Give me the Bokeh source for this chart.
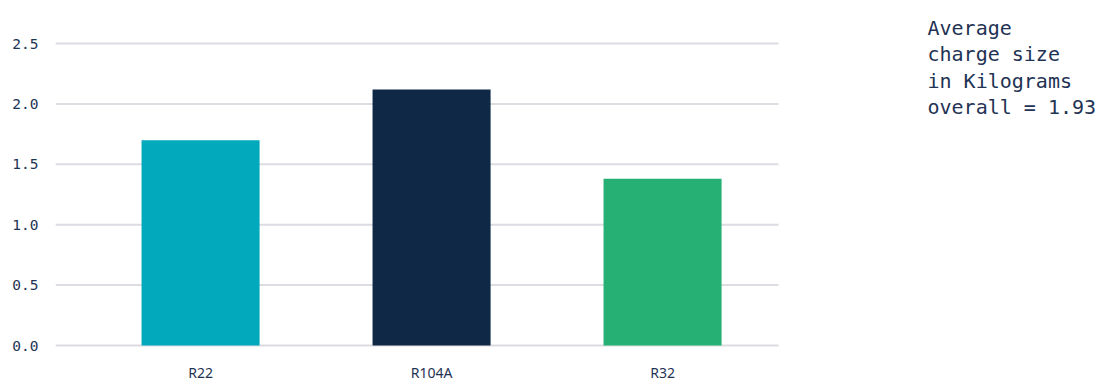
from bokeh.plotting import figure
from bokeh.models import FixedTicker, Range1d
from bokeh.core.properties import value
from bokeh.embed import file_html
from bokeh.resources import INLINE

categories = ["R22", "R104A", "R32"]
values = [1.70, 2.12, 1.38]
colors = ["#02a9bd", "#0f2846", "#27b074"]
y_ticks = [0.0, 0.5, 1.0, 1.5, 2.0, 2.5]
note_lines = ["Average", "charge size", "in Kilograms", "overall = 1.93"]

xs = list(range(len(categories)))
text_color = "#1f3354"

# layout constants (pixels)
PX_PER_CAT = 231.0
PX_PER_UNIT = 120.8
ZERO_Y = 345.0
LEFT = 55
X0 = -0.628                      # data x at the left edge of the frame
GRID_X1 = X0 + (778 - LEFT) / PX_PER_CAT

def y_of(px):
    return (ZERO_Y - px) / PX_PER_UNIT

p = figure(frame_width=1111 - LEFT, frame_height=381, output_backend="svg",
           toolbar_location=None, title=None,
           x_range=Range1d(X0, X0 + (1111 - LEFT) / PX_PER_CAT),
           y_range=Range1d(y_of(381), y_of(0)),
           x_axis_location=None,
           min_border_left=LEFT, min_border_right=0, min_border_top=0, min_border_bottom=0)
p.outline_line_color = None
p.background_fill_color = "white"
p.border_fill_color = "white"
p.xgrid.grid_line_color = None
p.ygrid.grid_line_color = None

# horizontal grid lines at the y ticks
n = len(y_ticks)
p.segment(x0=[X0] * n, x1=[GRID_X1] * n, y0=y_ticks, y1=y_ticks,
          line_color="#dcdce2", line_width=2)

p.vbar(x=xs, top=values, width=0.511, fill_color=colors, line_color=None)

p.text(x=xs, y=[y_of(371.5)] * len(xs), text=categories, text_font=value("Noto Sans"),
       text_font_size="14px", text_color=text_color, text_align="center",
       text_baseline="middle")

p.yaxis.ticker = FixedTicker(ticks=y_ticks)
p.yaxis.major_label_overrides = {t: f"{t:.1f}" for t in y_ticks}
p.yaxis.axis_line_color = None
p.yaxis.major_tick_line_color = None
p.yaxis.minor_tick_line_color = None
p.yaxis.major_tick_out = 0
p.yaxis.major_tick_in = 0
p.yaxis.major_label_text_font = "DejaVu Sans Mono"
p.yaxis.major_label_text_font_size = "14.5px"
p.yaxis.major_label_text_color = text_color
p.yaxis.major_label_standoff = 17

# note at the right
note_x = X0 + (927 - LEFT) / PX_PER_CAT
baselines = [y_of(27 + 26.6 * i) for i in range(len(note_lines))]
p.text(x=[note_x] * len(note_lines), y=baselines, text=note_lines,
       text_font=value("DejaVu Sans Mono"), text_font_size="20px",
       text_color=text_color, text_align="left", text_baseline="alphabetic")

open("out.html", "w").write(file_html(p, INLINE))
